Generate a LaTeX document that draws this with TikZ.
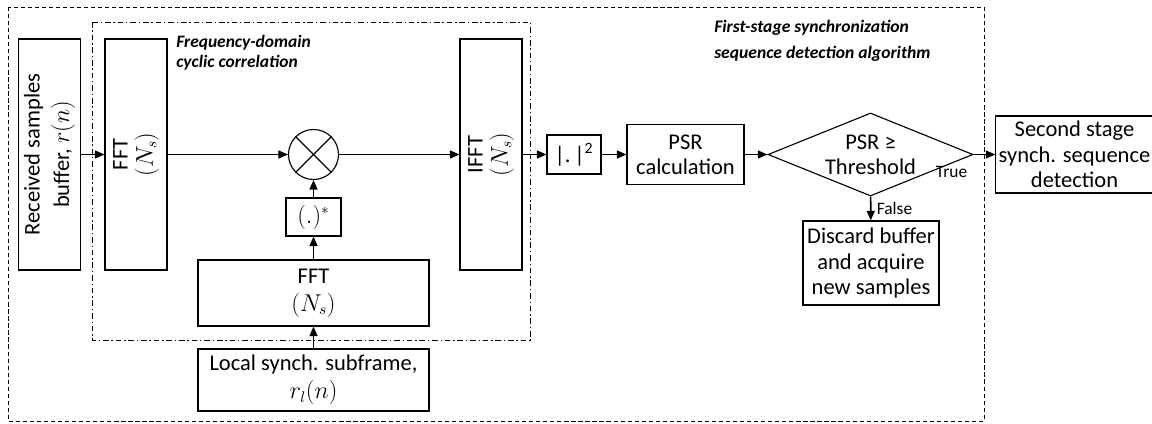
\documentclass[tikz,border=0pt]{standalone}
\usepackage{fontspec}
\setmainfont{Carlito}
\usetikzlibrary{shapes.geometric,arrows.meta}

\begin{document}
\begin{tikzpicture}[x=0.025cm,y=-0.025cm,
	every node/.style={font=\fontsize{16}{18}\selectfont},
	blk/.style={draw,line width=0.8pt,inner sep=2pt,align=center},
	tallblk/.style={blk,rotate=90,minimum width=5.775cm,minimum height=1.55cm},
	flow/.style={line width=1.1pt,-{Triangle[length=2.4mm,width=2mm]}},
	ttl/.style={align=left,anchor=north west,inner sep=0pt},
	lbl/.style={font=\fontsize{12.4}{14}\selectfont,inner sep=0pt}
	]
	\useasboundingbox (0,0) rectangle (1152,423);
	% frames
	\draw[line width=0.7pt,dash pattern=on 3pt off 2pt] (8,7) rectangle (984,421);
	\draw[line width=0.7pt,dash pattern=on 4pt off 2pt on 1pt off 2pt] (92,22) rectangle (530,340);
	\node[ttl,font=\fontsize{12.5}{18.5}\selectfont\bfseries\itshape] (stagettl) at (714,20) {First-stage synchronization\\sequence detection algorithm};
	\node[ttl,font=\fontsize{12.4}{14}\selectfont\bfseries\itshape] (corrttl) at (176,35) {Frequency-domain\\cyclic correlation};
	% blocks
	\node[tallblk] (rx) at (49.5,154.5) {Received samples\\[3pt]buffer, $r(n)$};
	\node[tallblk] (ffta) at (136,154.5) {FFT\\$(N_s)$};
	\node[draw,circle,line width=0.8pt,minimum size=1.25cm,inner sep=0pt] (mult) at (313.5,154.5) {};
	\draw[line width=0.8pt] (mult.north west) -- (mult.south east);
	\draw[line width=0.8pt] (mult.north east) -- (mult.south west);
	\node[blk,minimum width=1.375cm,minimum height=0.95cm] (conj) at (313.5,217) {$(.)^*$};
	\node[blk,minimum width=5.775cm,minimum height=1.65cm] (fftb) at (313.5,293) {FFT\\[2pt]$(N_s)$};
	\node[blk,minimum width=5.775cm,minimum height=1.55cm] (local) at (313.5,380) {Local synch. subframe,\\[2pt]$r_l(n)$};
	\node[tallblk] (ifft) at (491,154.5) {IFFT\\$(N_s)$};
	\node[blk,minimum width=1.35cm,minimum height=0.975cm] (mag) at (574,154.5) {|.\,|\textsuperscript{2}};
	\node[blk,minimum width=2.925cm,minimum height=1.5cm] (psr) at (685.5,154.5) {PSR\\calculation};
	\node[draw,diamond,line width=0.8pt,aspect=2.5,inner sep=0pt,minimum width=5.125cm,minimum height=2.075cm,align=center] (dec) at (870.5,154.5) {PSR ≥\\Threshold};
	\node[blk,minimum width=3.775cm,minimum height=1.925cm] (second) at (1074.5,154.5) {Second stage\\synch. sequence\\detection};
	\node[blk,minimum width=3.4cm,minimum height=2.1cm] (discard) at (871,263) {Discard buffer\\and acquire\\new samples};
	% connectors
	\draw[flow] (rx) -- (ffta);
	\draw[flow] (ffta) -- (mult);
	\draw[flow] (mult) -- (ifft);
	\draw[flow] (local) -- (fftb);
	\draw[flow] (fftb) -- (conj);
	\draw[flow] (conj) -- (mult);
	\draw[flow] (ifft) -- (mag);
	\draw[flow] (mag) -- (psr);
	\draw[flow] (psr) -- (dec);
	\draw[flow] (dec) -- (second);
	\draw[flow] (dec) -- (discard);
	\node[lbl,anchor=north east] (truelbl) at ([xshift=-0.15cm,yshift=-0.3cm]dec.east) {True};
	\node[lbl,anchor=west] (falselbl) at ([xshift=0.15cm,yshift=-0.3cm]dec.south) {False};
\end{tikzpicture}
\end{document}
